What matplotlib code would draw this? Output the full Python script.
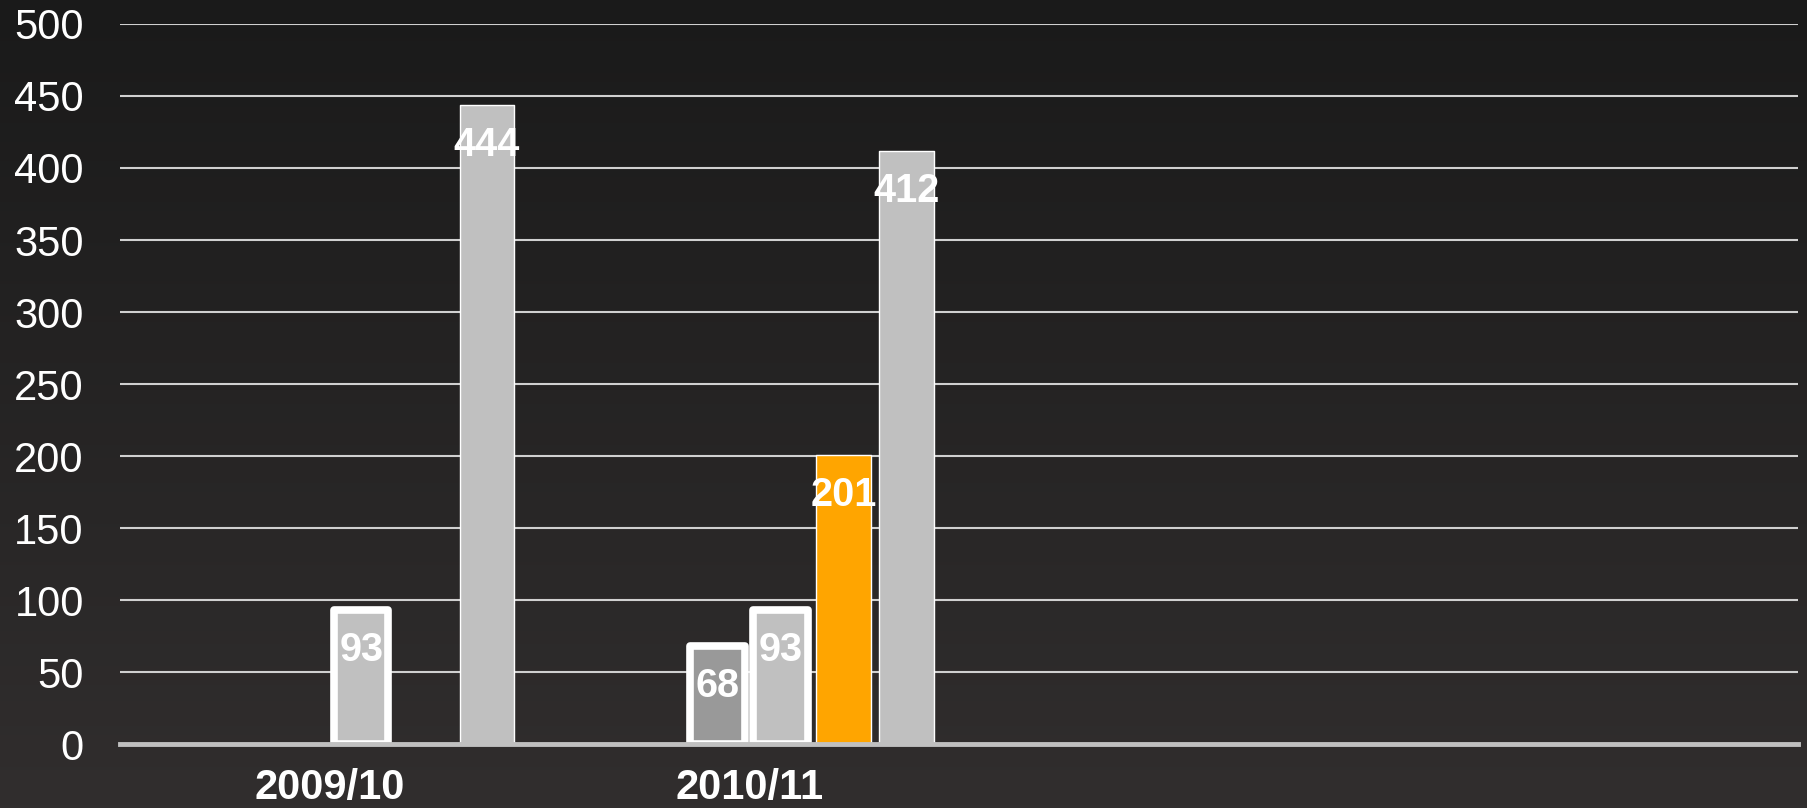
import matplotlib.pyplot as plt
import numpy as np

plt.rcParams['font.family'] = ['Liberation Sans', 'DejaVu Sans']

# data
categories = ['2009/10', '2010/11', '', '']
series_dark = [np.nan, 68, np.nan, np.nan]
series_light = [93, 93, np.nan, np.nan]
series_orange = [np.nan, 201, np.nan, np.nan]
series_total = [444, 412, np.nan, np.nan]
y_ticks = [0, 50, 100, 150, 200, 250, 300, 350, 400, 450, 500]

fig = plt.figure(figsize=(18.07, 8.08), dpi=100)

# dark vertical gradient background
bg = fig.add_axes([0, 0, 1, 1], zorder=-10)
top = np.array([0x1a, 0x1a, 0x1a]) / 255
bottom = np.array([0x31, 0x2e, 0x2e]) / 255
t = np.linspace(0, 1, 256)[:, None, None]
grad = top * (1 - t) + bottom * t
bg.imshow(grad, aspect='auto', extent=[0, 1, 0, 1])
bg.axis('off')

ax = fig.add_axes([0.0664, 0.0792, 0.9286, 0.8911])
ax.set_facecolor('none')

x = np.arange(len(categories))
step = 0.15
width = 0.13

# (values, slot, fill, edge width)
series = [
    (series_dark, 2, '#999999', 5.5),
    (series_light, 3, '#c0c0c0', 5.5),
    (series_orange, 4, '#ffa500', 1),
    (series_total, 5, '#c0c0c0', 1),
]

for vals, slot, color, lw in series:
    vals = np.array(vals, dtype=float)
    xs = x + (slot - 2.5) * step
    ok = ~np.isnan(vals)
    bars = ax.bar(xs[ok], vals[ok], width=width, color=color,
                  edgecolor='white', linewidth=lw, zorder=3)
    for b in bars:
        b.set_joinstyle('round')
    for xi, v in zip(xs[ok], vals[ok]):
        ax.annotate(f'{int(v)}', (xi, v), xytext=(0, -29),
                    textcoords='offset points', ha='center', va='center',
                    color='white', fontsize=28.5, fontweight='bold', zorder=5)

ax.set_xlim(-0.5, 3.5)
ax.set_ylim(0, 500)
ax.set_yticks(y_ticks)
ax.set_xticks(x)
ax.set_xticklabels(categories, fontsize=30, fontweight='bold', color='white')
ax.tick_params(axis='y', labelsize=30, labelcolor='white', length=0, pad=26)
ax.tick_params(axis='x', length=0, pad=17)

for yv in y_ticks[1:]:
    ax.axhline(yv, color='#d0d0d0', linewidth=1.5, zorder=1)
ax.axhline(0, color='#c0c0c0', linewidth=3.5, zorder=6, clip_on=False)

for s in ax.spines.values():
    s.set_visible(False)

fig.savefig('out.png', dpi=100)
